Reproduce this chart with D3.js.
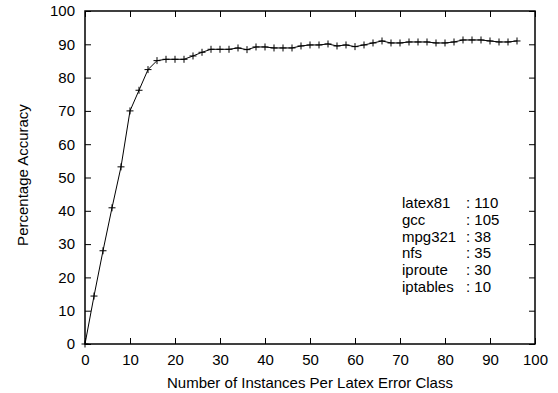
<!DOCTYPE html>
<html lang="en">
<head>
<meta charset="UTF-8">
<title>accuracy plot</title>
<script src="https://d3js.org/d3.v7.min.js"></script>
<style>
    body { margin: 0; background: #fff; }
    text { font-family: "Liberation Sans", Arial, sans-serif; font-size: 15px; fill: #000; }
</style>
</head>
<body>
<svg id="chart" width="558" height="393"></svg>
<script>
    // instances per class (x) and accuracy (y)
    let instances = [0, 2, 4, 6, 8, 10, 12, 14, 16, 18, 20, 22, 24, 26, 28, 30, 32, 34, 36, 38,
        40, 42, 44, 46, 48, 50, 52, 54, 56, 58, 60, 62, 64, 66, 68, 70, 72, 74, 76, 78,
        80, 82, 84, 86, 88, 90, 92, 94, 96]
    let accuracy = [0, 14.4, 28.0, 40.9, 53.2, 70.0, 76.2, 82.4, 85.1, 85.5, 85.5, 85.5, 86.5, 87.6, 88.5, 88.5, 88.5, 88.9, 88.4, 89.2,
        89.2, 88.9, 88.9, 88.9, 89.5, 89.8, 89.8, 90.1, 89.5, 89.8, 89.3, 89.8, 90.4, 91.0, 90.4, 90.4, 90.7, 90.7, 90.7, 90.4,
        90.4, 90.7, 91.3, 91.3, 91.3, 91.0, 90.7, 90.7, 91.0]
    let xTicks = d3.range(0, 101, 10)
    let yTicks = d3.range(0, 101, 10)
    let legendNames = ["latex81", "gcc", "mpg321", "nfs", "iproute", "iptables"]
    let legendCounts = [110, 105, 38, 35, 30, 10]

    let svg = d3.select("#chart")
    let mLeft = 85, mRight = 535, mTop = 11, mBottom = 344

    let x = d3.scaleLinear().domain([0, 100]).range([mLeft, mRight])
    let y = d3.scaleLinear().domain([0, 100]).range([mBottom, mTop])
    let tick = 6

    // frame
    svg.append("rect")
        .attr("x", mLeft).attr("y", mTop)
        .attr("width", mRight - mLeft).attr("height", mBottom - mTop)
        .attr("fill", "none").attr("stroke", "#000").attr("stroke-width", 1.5)

    // axes with inward ticks, mirrored on top/right
    svg.append("g")
        .attr("transform", `translate(0,${mBottom})`)
        .call(d3.axisBottom(x).tickValues(xTicks).tickSize(-tick).tickPadding(10.5))
    svg.append("g")
        .attr("transform", `translate(0,${mTop})`)
        .call(d3.axisTop(x).tickValues(xTicks).tickSize(-tick).tickFormat(""))
    svg.append("g")
        .attr("transform", `translate(${mLeft},0)`)
        .call(d3.axisLeft(y).tickValues(yTicks).tickSize(-tick).tickPadding(10))
    svg.append("g")
        .attr("transform", `translate(${mRight},0)`)
        .call(d3.axisRight(y).tickValues(yTicks).tickSize(-tick).tickFormat(""))

    svg.selectAll(".domain").remove()
    svg.selectAll(".tick line").attr("stroke", "#000").attr("stroke-width", 1)
    svg.selectAll(".tick text").attr("font-size", 15).attr("font-family", "Liberation Sans, Arial, sans-serif")

    // line
    let pts = instances.map((d, i) => [d, accuracy[i]])
    svg.append("path")
        .datum(pts)
        .attr("fill", "none").attr("stroke", "#000").attr("stroke-width", 1)
        .attr("d", d3.line().x(d => x(d[0])).y(d => y(d[1])))

    // + markers
    let m = 3.5
    svg.append("g").selectAll("path")
        .data(pts)
        .join("path")
        .attr("d", d => `M${x(d[0]) - m},${y(d[1])}h${2 * m}M${x(d[0])},${y(d[1]) - m}v${2 * m}`)
        .attr("stroke", "#000").attr("stroke-width", 1)

    // labels
    svg.append("text")
        .attr("x", (mLeft + mRight) / 2).attr("y", 388)
        .attr("text-anchor", "middle")
        .text("Number of Instances Per Latex Error Class")
    svg.append("text")
        .attr("transform", `translate(28,175) rotate(-90)`)
        .attr("text-anchor", "middle")
        .text("Percentage Accuracy")

    // text box
    let rows = svg.append("g").selectAll("g")
        .data(legendNames)
        .join("g")
        .attr("transform", (d, i) => `translate(0,${208.3 + i * 16.7})`)
    rows.append("text").attr("x", 402).text(d => d)
    rows.append("text").attr("x", 466).text((d, i) => ": " + legendCounts[i])
</script>
</body>
</html>
